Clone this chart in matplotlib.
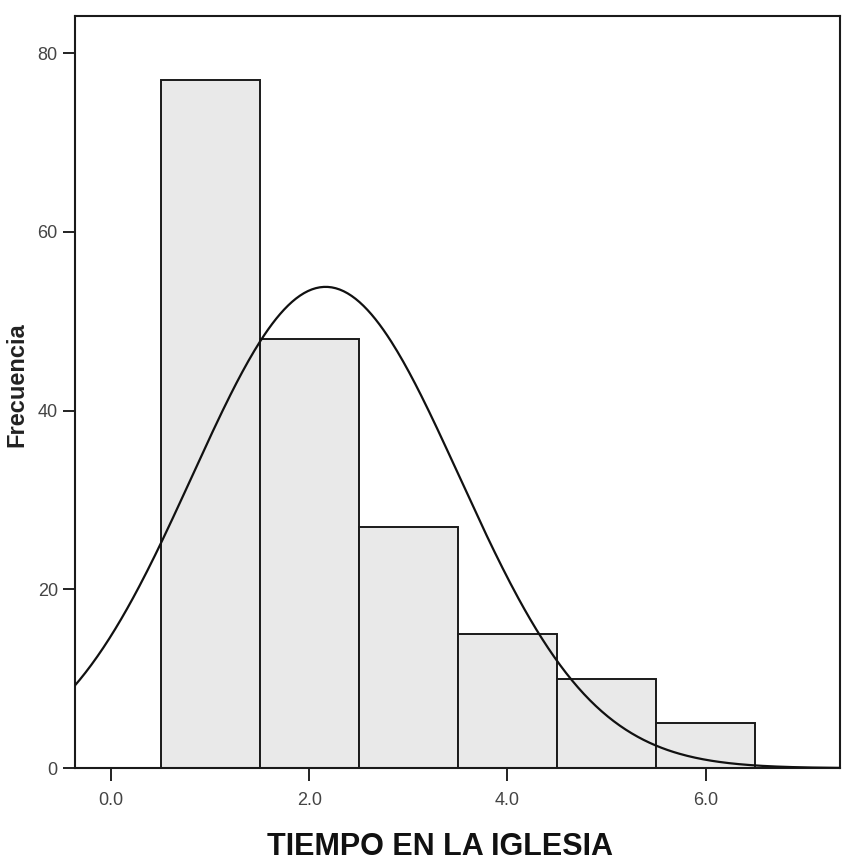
import numpy as np
import matplotlib
matplotlib.use("Agg")
import matplotlib.pyplot as plt

valores = [1, 2, 3, 4, 5, 6]
frecuencias = [77, 48, 27, 15, 10, 5]
y_ticks = [0, 20, 40, 60, 80]
x_ticks = [0.0, 2.0, 4.0, 6.0]
x_tick_labels = ["0.0", "2.0", "4.0", "6.0"]

fuente = ["Liberation Sans", "DejaVu Sans"]

fig = plt.figure(figsize=(8.47, 8.67), dpi=100)
ax = fig.add_axes([0.088, 0.114, 0.904, 0.868])

ax.bar(valores, frecuencias, width=1.0, color="#e9e9e9",
       edgecolor="#1a1a1a", linewidth=1.4, zorder=2)

# Curva normal ajustada (como la de SPSS) a partir de los datos
v = np.array(valores, dtype=float)
f = np.array(frecuencias, dtype=float)
n = f.sum()
media = (v * f).sum() / n
sd = np.sqrt(((v - media) ** 2 * f).sum() / (n - 1))
xs = np.linspace(-0.5, 7.5, 400)
ys = n * 1.0 / (sd * np.sqrt(2 * np.pi)) * np.exp(-0.5 * ((xs - media) / sd) ** 2)
ax.plot(xs, ys, color="#111111", linewidth=1.6, zorder=3)

ax.set_xlim(-0.37, 7.36)
ax.set_ylim(0, 84.2)

ax.set_yticks(y_ticks)
ax.set_yticklabels([str(t) for t in y_ticks], family=fuente, fontsize=13, color="#444444")
ax.set_xticks(x_ticks)
ax.set_xticklabels(x_tick_labels, family=fuente, fontsize=13, color="#444444")
ax.tick_params(axis="both", direction="out", length=9, width=1.4, color="#222222")
ax.tick_params(axis="x", pad=8)
ax.tick_params(axis="y", pad=3)

for s in ax.spines.values():
    s.set_linewidth(1.5)
    s.set_color("#1a1a1a")

ax.set_xlabel("TIEMPO EN LA IGLESIA", family=fuente, fontsize=22, fontweight="bold",
              color="#111111")
ax.xaxis.set_label_coords(0.477, -0.085)
ax.set_ylabel("Frecuencia", family=fuente, fontsize=17, fontweight="bold",
              color="#222222")
ax.yaxis.set_label_coords(-0.06, 0.51)

fig.savefig("out.png", dpi=100)
